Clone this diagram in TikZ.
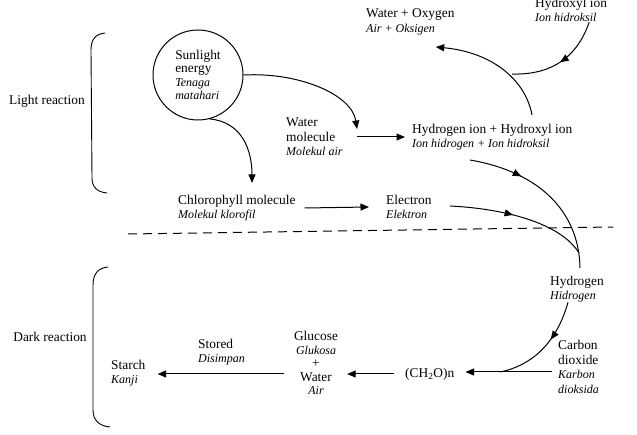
\documentclass[tikz,border=0pt]{standalone}
\usepackage{fontspec}
\setmainfont{Liberation Serif}
\usetikzlibrary{arrows.meta,decorations.markings}
\newcommand\ital[1]{{\fontsize{12}{14.5}\selectfont\itshape #1}}
\tikzset{
  txt/.style={inner sep=0pt, align=left, font=\fontsize{13.4}{14.5}\selectfont},
  ctxt/.style={inner sep=0pt, align=center, font=\fontsize{13.4}{13.5}\selectfont},
  conn/.style={line width=1pt, -{Triangle[length=8.5pt,width=7pt]}},
  midarrow/.style={line width=1pt, postaction={decorate},
    decoration={markings, mark=at position #1 with {\arrow{Triangle[length=8.5pt,width=7pt]}}}},
  brace/.style={line width=0.9pt},
}
\begin{document}
\begin{tikzpicture}[x=1pt,y=-1pt]
\useasboundingbox (0,0) rectangle (637,435);

% labels of sections
\node[txt, anchor=center] (lr) at (47,101) {Light reaction};
\node[txt, anchor=center] (dr) at (50,337) {Dark reaction};

% brackets
\draw[brace] (105,33) .. controls (95,34) and (91,40) .. (91,50) -- (92,178) .. controls (92,187) and (97,192) .. (107,193);
\draw[brace] (108,267) .. controls (98,268) and (93,274) .. (93,285) -- (93,410) .. controls (93,420) and (99,426) .. (110,427);

% nodes
\node[circle, draw, line width=1pt, minimum size=90pt, inner sep=0pt, align=left,
      font=\fontsize{13.4}{13.5}\selectfont] (sun) at (198,75)
      {Sunlight\\energy\\\ital{Tenaga}\\\ital{matahari}};
\node[txt, anchor=west] (water) at (286,137) {Water\\molecule\\\ital{Molekul air}};
\node[txt, anchor=west] (hion) at (412,137) {Hydrogen ion + Hydroxyl ion\\\ital{Ion hidrogen + Ion hidroksil}};
\node[txt, anchor=west] (wo) at (366,22) {Water + Oxygen\\\ital{Air + Oksigen}};
\node[txt, anchor=west] (hyd) at (535,10) {Hydroxyl ion\\\ital{Ion hidroksil}};
\node[txt, anchor=west] (chl) at (178,208) {Chlorophyll molecule\\\ital{Molekul klorofil}};
\node[txt, anchor=west] (elec) at (386,207) {Electron\\\ital{Elektron}};
\node[txt, anchor=west] (hydr) at (550,289) {Hydrogen\\\ital{Hidrogen}};
\node[txt, anchor=west] (co2) at (558,367) {Carbon\\dioxide\\\ital{Karbon}\\\ital{dioksida}};
\node[txt, anchor=west] (ch2o) at (405,374) {(CH\textsubscript{2}O)n};
\node[ctxt, anchor=center] (glu) at (316,363) {Glucose\\\ital{Glukosa}\\+\\Water\\\ital{Air}};
\node[txt, anchor=west] (stored) at (198,352) {Stored\\\ital{Disimpan}};
\node[txt, anchor=west] (starch) at (111,373) {Starch\\\ital{Kanji}};

% helper coordinates
\coordinate (wtop) at (357,129);
\coordinate (chltop) at (252,183);
\coordinate (jn) at (512,74);
\coordinate (hyin) at (580,268);
\coordinate (jn2) at (500,372);
\coordinate (dl) at (128,234);
\coordinate (dr2) at (613,227);

% dashed divider
\draw[line width=1pt, dash pattern=on 9pt off 6pt] (dl) -- (dr2);

% light reaction connectors
\draw[conn] (sun.east) .. controls (300,72) and (352,95) .. (wtop);
\draw[conn] (sun.-75) .. controls (242,122) and (252,150) .. (chltop);
\draw[conn] ([xshift=14pt]water.east) -- ([xshift=-7pt]hion.west |- water.east);
\draw[conn] ([xshift=9pt]chl.east) -- ([xshift=-17pt]elec.west);
\draw[conn] (532,115) .. controls (525,78) and (490,52) .. ([xshift=-19pt]wo.east |- 0,47);
\draw[midarrow=0.5] ([xshift=-18pt]hyd.south east) .. controls (575,63) and (545,75) .. (jn);
\draw[midarrow=0.32] (470,160) .. controls (540,172) and (579,212) .. (hyin);
\draw[midarrow=0.45] (450,206) .. controls (510,209) and (562,225) .. (579,253);

% dark reaction connectors
\draw[midarrow=0.4] ([xshift=18pt]hydr.south west) .. controls (556,345) and (530,366) .. (jn2);
\draw[conn] ([xshift=-6pt]co2.west |- 0,372) -- ([xshift=11pt]ch2o.east |- 0,372);
\draw[conn] ([xshift=-11pt]ch2o.west) -- ([xshift=9pt]glu.east |- ch2o.west);
\draw[conn] ([xshift=-10pt]glu.west |- 0,374) -- ([xshift=12pt]starch.east |- 0,374);
\end{tikzpicture}
\end{document}
